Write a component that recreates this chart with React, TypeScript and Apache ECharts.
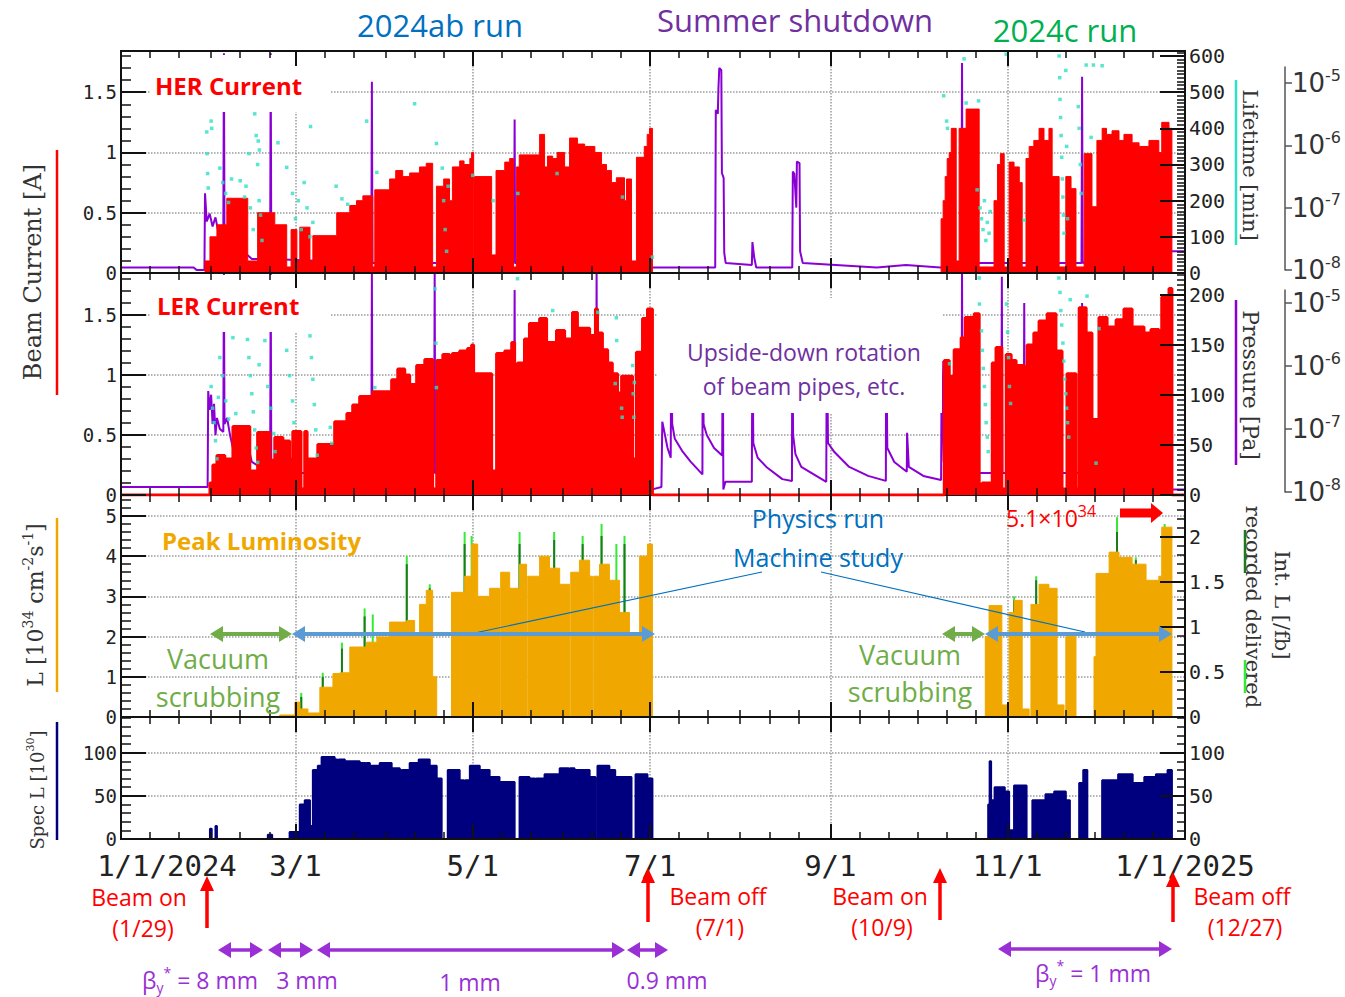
import React, { useEffect, useRef } from 'react';
import * as echarts from 'echarts';

// ---------------- axis ticks / labels ----------------
const MONTH_STARTS = [0, 31, 60, 91, 121, 152, 182, 213, 244, 274, 305, 335, 366];
const X_LABEL_DAYS = [0, 60, 121, 182, 244, 305, 366];
const X_LABELS = ['1/1/2024', '3/1', '5/1', '7/1', '9/1', '11/1', '1/1/2025'];
const SPLIT_DAYS = [60, 121, 182, 244, 305];

// ---------------- data (x = day of 2024, 0 = 1/1/2024) ----------------
// beam currents [A], step values holding from the given day
const herCurrent = [
  [0, 0], [28.9, 0.1], [30.6, 0.3], [33, 0.4], [36.4, 0.62], [43.6, 0.1], [47, 0.5], [52.9, 0.4], [57, 0.05], [58.5, 0.36],
  [60.5, 0.1], [61.5, 0.38], [65, 0.1], [66, 0.31], [74.2, 0.5], [78.7, 0.56], [81, 0.6], [83.2, 0.64], [86.6, 0.05], [87.3, 0.69],
  [92.4, 0.78], [94.5, 0.85], [96.9, 0.8], [99.3, 0.83], [102.7, 0.88], [105, 0.91], [107.2, 0.05], [108.5, 0.72], [111, 0.78], [113, 0.6],
  [114, 0.88], [116.5, 0.93], [118, 0.9], [120, 0.95], [120.6, 1.0], [121.3, 0.05], [121.6, 0.8], [127.5, 0.15], [129, 0.85], [132, 0.92],
  [133.7, 0.95], [135, 0.05], [136, 0.88], [137, 0.98], [144, 1.15], [145.7, 0.88], [146.7, 0.97], [148.5, 0.95], [150, 1.0], [152.6, 0.88],
  [154.3, 1.12], [157, 1.07], [159.5, 1.05], [163, 1.0], [165.3, 0.9], [167, 0.85], [168.7, 0.75], [170.4, 0.79], [173.2, 0.6], [173.9, 0.78],
  [175.6, 0.1], [177.3, 0.96], [180, 1.05], [181, 1.15], [181.8, 1.2], [182.8, 0],
  [282.1, 0.45], [282.8, 0.6], [283.5, 0.8], [284.2, 0.95], [284.9, 1.0], [285.6, 1.2], [287.3, 0.1], [288.3, 1.2], [290.7, 1.36], [295.2, 0.05],
  [300.3, 0.6], [301.5, 0.9], [302.5, 0.99], [303.8, 0.05], [305.5, 0.92], [307.2, 0.88], [309, 0.75], [310, 0.05], [311.3, 0.95], [312.4, 1.05],
  [314, 1.1], [315.8, 1.2], [317.5, 1.1], [319.2, 1.2], [320.3, 0.8], [322.7, 0.05], [325, 0.8], [326.8, 0.7], [328.5, 0.05], [331.3, 0.99],
  [334, 0.55], [335.7, 1.1], [337.5, 1.2], [339, 1.15], [340.9, 1.18], [343.3, 1.1], [345, 1.15], [347.8, 1.08], [350.2, 1.05], [353.6, 1.1],
  [357, 1.0], [358, 1.25], [360.5, 1.2], [361.5, 0], [366, 0],
];
const lerCurrent = [
  [0, 0], [30.6, 0.1], [31.6, 0.25], [33, 0.33], [35.7, 0.3], [38.5, 0.57], [44.3, 0.2], [47, 0.52], [51.2, 0.29], [52.9, 0.48],
  [55.7, 0.45], [58, 0.3], [59.1, 0.53], [61.9, 0.05], [63.2, 0.53], [64, 0.3], [67.7, 0.42], [73.5, 0.61], [77.7, 0.68], [79.7, 0.75],
  [82.1, 0.82], [86.6, 0.86], [93.1, 0.96], [95.2, 1.05], [97.6, 1.0], [99.3, 0.92], [101.7, 1.08], [104.5, 1.13], [107.2, 0.05], [108.6, 1.12],
  [110.7, 1.17], [113, 1.0], [114, 1.18], [116.5, 1.2], [119.2, 1.22], [120.6, 1.25], [121.3, 0.05], [121.6, 1.01], [127.5, 0.2], [129.2, 1.18],
  [132, 1.2], [134.4, 1.27], [135.4, 0.05], [136.4, 1.1], [138.8, 1.3], [140.5, 1.43], [144, 1.47], [146.4, 1.27], [149.8, 1.37], [152.6, 1.3],
  [155.3, 1.52], [157, 1.39], [161.2, 1.33], [163.2, 1.55], [163.9, 1.35], [165.6, 1.21], [167.4, 1.1], [169, 1.01], [170.8, 0.85], [172.2, 0.99],
  [176, 0.3], [177.3, 1.19], [179.4, 1.47], [181.1, 1.55], [182.8, 0],
  [283.2, 1.12], [284.9, 0.99], [286.6, 1.21], [289, 1.31], [289.7, 0.05], [290.4, 1.48], [293.5, 1.51], [295.2, 0.05], [296.2, 0.1], [299.7, 1.1],
  [301, 1.23], [303, 0.05], [304.5, 1.17], [306.2, 1.12], [307.9, 1.08], [310.7, 0.05], [311.7, 1.25], [314, 1.35], [315.8, 1.45], [318.6, 1.51],
  [321.6, 1.2], [323.7, 0.05], [325.4, 1.01], [328.5, 0.05], [329.6, 1.56], [332, 1.35], [334, 0.63], [336.4, 1.48], [339.2, 1.4], [342.3, 1.46],
  [345, 1.55], [347.8, 1.4], [351.9, 1.35], [354.3, 1.38], [357, 1.35], [358, 1.65], [360.5, 1.72], [361.5, 0], [366, 0],
];
// vacuum pressure [Pa] (log scale)
const herPressure = [
  [0, 1.1e-8], [25, 1.1e-8], [26, 1.0e-8], [28.7, 1.0e-8], [28.9, 1.7e-7], [29.5, 6e-8], [30.5, 8e-8], [31.5, 5e-8], [32.5, 7e-8], [33.5, 4e-8],
  [35.2, 4e-8], [35.4, 3e-5], [35.6, 4e-8], [38, 3e-8], [45, 1.5e-8], [51.3, 1.5e-8], [51.5, 3e-5], [51.7, 1.5e-8], [86.1, 1.3e-8], [86.3, 1.05e-5],
  [86.5, 1.3e-8], [135.2, 1.3e-8], [135.4, 2.6e-6], [135.6, 1.3e-8], [182.8, 1.1e-8], [204.4, 1.1e-8], [204.6, 3.7e-6], [205.3, 3.2e-6], [205.5, 8e-6], [205.8, 1.74e-5],
  [206.5, 1.6e-5], [206.7, 3.6e-7], [207.3, 3e-7], [207.5, 1.9e-8], [208, 1.3e-8], [217, 1.2e-8], [217.2, 2.8e-8], [217.8, 1.6e-8], [218.5, 1.1e-8], [230.9, 1.1e-8],
  [231.1, 3.8e-7], [231.6, 3.5e-7], [232.3, 1e-7], [232.5, 5.5e-7], [233.4, 5.2e-7], [233.6, 2e-8], [234.5, 1.3e-8], [260, 1.1e-8], [270, 1.2e-8], [281.8, 1.1e-8],
  [289.1, 1.3e-8], [289.3, 2.1e-5], [289.5, 1.3e-8], [330.4, 1.3e-8], [330.6, 1.26e-5], [330.8, 1.3e-8], [361.5, 2e-8], [366, 2e-8],
];
const lerPressure = [
  [0, 1.2e-8], [29.8, 1.2e-8], [30, 4e-7], [30.5, 2e-7], [31, 3.5e-7], [31.5, 1.2e-7], [32, 2.5e-7], [32.5, 8e-8], [33, 1.5e-7], [34, 1e-7],
  [35.2, 9e-8], [35.4, 3e-5], [35.6, 1.2e-7], [36.5, 1.5e-7], [37.5, 8e-8], [38.5, 5e-8], [40, 3e-8], [43.5, 6e-8], [45, 3e-8], [51.3, 2e-8],
  [51.5, 3e-5], [51.7, 2e-8], [86.1, 2e-8], [86.3, 3e-5], [86.5, 2e-8], [107.7, 2e-8], [107.9, 3e-5], [108.1, 2e-8], [135.2, 2e-8], [135.4, 1.6e-5],
  [135.6, 2e-8], [163.4, 2e-8], [163.6, 3e-5], [163.8, 2e-8], [182.8, 1.1e-8], [185.9, 1.2e-8], [186.2, 1.3e-7], [186.9, 9e-8], [188, 5e-8], [189.1, 3.5e-8],
  [189.3, 5e-6], [189.6, 1.2e-7], [190.5, 7e-8], [193, 4.5e-8], [196, 3e-8], [200, 1.9e-8], [200.1, 5e-6], [200.4, 1.2e-7], [201.5, 8e-8], [204, 5e-8],
  [206.8, 3.8e-8], [207, 5e-6], [207.2, 1.1e-8], [207.9, 1.45e-8], [217, 1.45e-8], [217.2, 5e-6], [217.5, 6e-8], [219, 3.5e-8], [222, 2.5e-8], [227.5, 1.6e-8],
  [230.8, 1.5e-8], [230.9, 5e-6], [231.2, 8e-8], [232, 4e-8], [234, 2.5e-8], [242.6, 1.45e-8], [242.8, 5e-6], [243.2, 6e-8], [245.4, 4.3e-8], [250.5, 2.5e-8],
  [257, 1.8e-8], [263.1, 1.5e-8], [263.2, 5e-6], [263.6, 5e-8], [266, 3e-8], [270.3, 2.1e-8], [270.4, 8.7e-8], [271, 2.5e-8], [276, 1.8e-8], [282.1, 1.55e-8],
  [282.3, 1.2e-6], [283, 3e-8], [289.1, 2e-8], [289.3, 3e-5], [289.5, 2e-8], [302.8, 2e-8], [303, 2.6e-5], [303.2, 2e-8], [310.5, 2e-8], [310.7, 1e-5],
  [310.9, 2e-8], [330.4, 2e-8], [330.6, 1e-5], [330.8, 2e-8], [361.5, 1.1e-8], [366, 1.1e-8],
];
// beam lifetime [min]
const herLifetime = [
  [29.5, 390], [29.6, 330], [29.8, 275], [30, 235], [31, 420], [31.2, 400], [34, 290], [35, 250], [36, 220], [37, 195],
  [38, 260], [41, 255], [42.5, 210], [43, 240], [44, 330], [44.5, 180], [45.5, 120], [46, 440], [46.5, 380], [47, 300],
  [47.5, 200], [48, 160], [48.5, 90], [47.2, 365], [47.6, 340], [54, 360], [57, 292], [59, 220], [60, 150], [61, 200],
  [62, 120], [63, 250], [64, 180], [65, 100], [66, 140], [65.2, 405], [74, 240], [76, 205], [78, 190], [84.5, 420],
  [88, 278], [101, 468], [108.5, 358], [110.5, 290], [111, 200], [111.5, 120], [112, 60], [112.5, 240], [121, 270], [128, 200],
  [136.5, 220], [150, 275], [172.5, 210], [182.8, 44],
  [283, 490], [284, 420], [284.3, 400], [290, 592], [290.7, 470], [295, 476], [294.5, 230], [295.5, 180], [296, 150], [296.5, 120],
  [297, 200], [297.5, 90], [298, 140], [298.6, 110], [299, 170], [304.5, 605], [310.7, 146], [322.7, 600], [322.9, 540], [323, 480],
  [323.2, 430], [323.4, 380], [323.6, 320], [323.8, 260], [324, 210], [324.2, 160], [324.4, 110], [325, 560], [325.3, 350], [325.6, 150],
  [329.3, 460], [329.6, 400], [330, 300], [330.3, 220], [332, 575], [334.5, 575], [337.5, 573], [333.7, 375],
];
const lerLifetime = [
  [31, 300], [31.5, 240], [32, 200], [32.5, 150], [33, 100], [33.5, 270], [34, 380], [35, 330], [36, 260], [37, 210],
  [38.5, 435], [39.5, 225], [43.5, 430], [44, 380], [44.5, 330], [45, 280], [45.5, 230], [46, 180], [46.5, 130], [47, 90],
  [47.5, 360], [49.5, 427], [50.5, 300], [51.5, 240], [52.5, 170], [53, 120], [57, 400], [58, 330], [59, 260], [59.5, 200],
  [65, 440], [65.5, 380], [66, 320], [66.5, 250], [67, 180], [67.5, 110], [72, 187], [72.5, 143], [87.3, 297], [108, 570],
  [108.3, 420], [108.5, 297], [136.4, 598], [148.5, 510], [164, 505], [170.4, 490], [170.5, 427], [170, 308], [172.2, 240], [172.4, 215],
  [176, 358], [176.2, 280], [176.4, 215], [176.6, 311],
  [285, 363], [295.2, 600], [295.3, 528], [296, 454], [296.3, 400], [296.6, 350], [297, 300], [297.3, 250], [297.6, 200], [298, 160],
  [298.3, 120], [304.6, 528], [305, 450], [305.3, 380], [305.6, 300], [306, 253], [322.6, 600], [323, 560], [323.3, 510], [323.6, 470],
  [324, 420], [324.3, 370], [324.6, 320], [325, 280], [325.3, 240], [325.6, 200], [326, 160], [326.5, 540], [332.3, 550], [336.4, 460],
  [335.4, 88],
];
// peak luminosity [1e34 cm^-2 s^-1]
const peakLumi = [
  [0, 0], [54.6, 0.05], [59.8, 0.37], [61.5, 0.2], [64.3, 0.1], [68.4, 0.74], [72.9, 1.08], [75.3, 1.1], [78.7, 1.74], [84.5, 1.86],
  [88, 1.99], [92.4, 2.36], [98.3, 2.4], [101, 2.1], [102.7, 2.8], [105, 3.15], [107.2, 1.0], [108.6, 0], [112.5, 0], [113.7, 3.1],
  [118.2, 3.5], [120.6, 4.3], [122.7, 3.0], [126.8, 3.2], [130.2, 0], [130.6, 3.6], [133.7, 3.2], [137.1, 3.8], [139.5, 0], [139.9, 3.5],
  [144, 4.0], [147.4, 3.7], [150.9, 3.3], [154.3, 0], [154.7, 3.6], [157.7, 3.9], [161.2, 3.5], [162.2, 0], [162.6, 3.5], [164.6, 3.8],
  [168, 3.4], [171.5, 2.6], [174.9, 2.0], [178.4, 4.0], [181.1, 4.3], [182.8, 0],
  [297.3, 2.0], [298.6, 2.77], [303, 0.3], [304.8, 0], [305.5, 2.6], [307.2, 2.9], [310, 0.2], [312.4, 0], [313, 2.8], [315.8, 3.3],
  [319.2, 3.2], [322, 0.3], [324.4, 0], [325, 2.0], [328.5, 0], [334.7, 1.5], [335.4, 3.57], [339.9, 4.1], [343.3, 3.97], [347.8, 3.8],
  [352.6, 3.4], [357, 3.5], [358, 4.72], [361.5, 0], [366, 0],
];
const lumiDelivered = [
  [62, 0.6], [69.4, 1.1], [76, 1.85], [83.8, 2.7], [86.6, 2.55], [98.3, 4.0], [106.2, 3.3], [118.2, 4.6], [120.6, 4.5], [137.1, 4.6],
  [149, 4.6], [158.8, 4.5], [165.3, 4.8], [170.4, 4.3], [173.2, 4.5], [307.2, 3.0], [314.8, 3.5], [342.6, 4.97], [349.1, 3.97], [359, 4.8],
];
const lumiRecorded = [
  [62, 0.5], [69.4, 1.0], [76, 1.7], [83.8, 2.5], [98.3, 3.8], [106.2, 3.2], [118.2, 4.3], [137.1, 4.3], [149, 4.4], [158.8, 4.3],
  [165.3, 4.5], [173.2, 4.3], [307.2, 2.9], [314.8, 3.4], [342.6, 4.6], [349.1, 3.9],
];
// specific luminosity [1e30]
const specLumi = [
  [0, 0], [30.6, 12], [31.2, 0], [32.5, 15], [33, 0], [50.5, 5], [52, 0], [58, 8], [61.5, 40], [63.2, 45],
  [65, 15], [66, 80], [67.7, 85], [69, 95], [73.5, 92], [74.5, 0], [74.9, 92], [77, 90], [82.1, 88], [84, 0],
  [84.4, 88], [85.6, 85], [89, 88], [93.1, 82], [95.9, 80], [96.5, 0], [96.9, 80], [99.3, 88], [102, 0], [102.4, 92],
  [106.2, 85], [108.6, 70], [110.3, 0], [112.4, 80], [116.5, 68], [118, 0], [118.4, 68], [120, 85], [123.4, 80], [126.8, 72],
  [130.2, 66], [135.4, 0], [137.1, 72], [140.5, 70], [142.5, 0], [142.9, 70], [145.7, 75], [150.9, 82], [154, 0], [154.4, 82],
  [156, 80], [161.2, 72], [163.2, 0], [163.9, 85], [168, 80], [170, 0], [170.4, 72], [175.6, 0], [177, 75], [181.1, 70],
  [182.8, 0],
  [298.3, 40], [298.8, 90], [299.3, 45], [300.5, 60], [304, 55], [305.5, 10], [307.2, 62], [311.5, 0], [313.5, 45], [318, 52],
  [321, 55], [325, 45], [326.4, 0], [329.6, 65], [331, 80], [332.4, 0], [337.5, 68], [343, 75], [348, 65], [352, 72],
  [356, 75], [360, 80], [361.5, 0], [366, 0],
];

// ---------------- styling ----------------
const RED = '#ff0000';
const PURPLE = '#8a00d4';
const CYAN = '#2ee0c4';
const ORANGE = '#f0a800';
const NAVY = '#00007f';
const MONO = 'DejaVu Sans Mono';
const SERIF = 'DejaVu Serif';
const SANS = 'Open Sans';

const MINOR_DAYS: number[] = [];
MONTH_STARTS.slice(0, 12).forEach((s) => {
  if (!X_LABEL_DAYS.includes(s)) MINOR_DAYS.push(s);
  MINOR_DAYS.push(s + 10, s + 20);
});

const GRID_DEFS = [
  { top: 51, height: 222 },
  { top: 273, height: 222 },
  { top: 495, height: 222 },
  { top: 717, height: 122 },
  { top: 67, height: 203 },
  { top: 290, height: 202 },
];
const PANEL_Y = [
  { left: { max: 1.842, interval: 0.5, minor: 5 }, right: { max: 613.8, interval: 100, minor: 10 } },
  { left: { max: 1.85, interval: 0.5, minor: 5 }, right: { max: 222, interval: 50, minor: 10 } },
  { left: { max: 5.52, interval: 1, minor: 5 }, right: { max: 2.467, interval: 0.5, minor: 5 } },
  { left: { max: 141.4, interval: 50, minor: 5 }, right: { max: 141.4, interval: 50, minor: 5 } },
];

function txt(text: string, x: number, y: number, size: number, color: string, o: any = {}) {
  const align = o.align || 'center';
  return {
    type: 'text', x, y, rotation: o.rotation || 0, z: o.z ?? 30, silent: true,
    style: {
      text, fill: color, fontSize: size, fontFamily: o.family || SANS, fontWeight: o.weight || 'normal',
      textAlign: align, textVerticalAlign: 'middle', align, verticalAlign: 'middle', rich: o.rich,
    },
  };
}
function head(xt: number, yt: number, dx: number, dy: number, len: number, half: number, color: string, z: number) {
  const bx = xt - dx * len, by = yt - dy * len;
  const px = -dy, py = dx;
  return {
    type: 'polygon', z, silent: true,
    shape: { points: [[xt, yt], [bx + px * half, by + py * half], [bx - px * half, by - py * half]] },
    style: { fill: color },
  };
}
function arrow(x1: number, y1: number, x2: number, y2: number, color: string, w: number, len: number, half: number, both: boolean, z = 25) {
  const L = Math.hypot(x2 - x1, y2 - y1);
  const dx = (x2 - x1) / L, dy = (y2 - y1) / L;
  const sx = both ? x1 + dx * len * 0.8 : x1, sy = both ? y1 + dy * len * 0.8 : y1;
  const ex = x2 - dx * len * 0.8, ey = y2 - dy * len * 0.8;
  const els: any[] = [{ type: 'line', z, silent: true, shape: { x1: sx, y1: sy, x2: ex, y2: ey }, style: { stroke: color, lineWidth: w } }];
  els.push(head(x2, y2, dx, dy, len, half, color, z));
  if (both) els.push(head(x1, y1, -dx, -dy, len, half, color, z));
  return els;
}
function vline(x: number, y1: number, y2: number, color: string, w = 2.5) {
  return { type: 'line', z: 30, silent: true, shape: { x1: x, y1, x2: x, y2 }, style: { stroke: color, lineWidth: w } };
}
function box(x: number, y: number, w: number, h: number) {
  return { type: 'rect', z: 6, silent: true, shape: { x, y, width: w, height: h }, style: { fill: '#ffffff' } };
}

function buildOption() {
  const grid = GRID_DEFS.map((g, i) => ({
    left: 121, right: 160, top: g.top, height: g.height, show: i < 4, z: 10,
    borderColor: '#111', borderWidth: 2, backgroundColor: 'rgba(0,0,0,0)', outerBoundsMode: 'none', containLabel: false,
  }));

  const dotted = { type: 'dotted', color: '#9a9a9a', width: 1.5 };
  const xAxis: any[] = [];
  const xData: number[] = [];
  for (let g = 0; g < 6; g++) {
    xData.push(xAxis.length);
    xAxis.push({
      type: 'value', gridIndex: g, min: 0, max: 366, position: 'bottom', z: 0, show: g < 4,
      axisLine: { show: false, onZero: false }, axisLabel: { show: false },
      axisTick: { show: false, customValues: SPLIT_DAYS },
      splitLine: { show: g < 4, lineStyle: dotted },
    });
    if (g >= 4) continue;
    for (const pos of ['bottom', 'top']) {
      const showLabel = g === 3 && pos === 'bottom';
      xAxis.push({
        type: 'value', gridIndex: g, min: 0, max: 366, position: pos, z: 12,
        axisLine: { show: false, onZero: false }, splitLine: { show: false },
        axisTick: { show: true, inside: true, length: 15, customValues: X_LABEL_DAYS, lineStyle: { color: '#111', width: 2 } },
        axisLabel: showLabel
          ? {
              show: true, customValues: X_LABEL_DAYS, fontFamily: MONO, fontSize: 29, lineHeight: 26, color: '#222', margin: 14,
              formatter: (v: number) => {
                const i = X_LABEL_DAYS.indexOf(Math.round(v));
                const s = i >= 0 ? X_LABELS[i] : '';
                return i === 0 ? `{f|${s}}` : s;
              },
              rich: { f: { fontFamily: MONO, fontSize: 29, lineHeight: 26, color: '#222', padding: [0, 0, 0, 92] } },
            }
          : { show: false },
      });
      xAxis.push({
        type: 'value', gridIndex: g, min: 0, max: 366, position: pos, z: 12,
        axisLine: { show: false, onZero: false }, splitLine: { show: false }, axisLabel: { show: false },
        axisTick: { show: true, inside: true, length: 7, customValues: MINOR_DAYS, lineStyle: { color: '#111', width: 1.5 } },
      });
    }
  }

  const yAxis: any[] = [];
  const yData: number[] = [], yRight: number[] = [];
  const labelStyle = { fontFamily: MONO, fontSize: 19, lineHeight: 17, color: '#222', margin: 4, showMaxLabel: false };
  PANEL_Y.forEach((p, g) => {
    yData[g] = yAxis.length;
    yAxis.push({
      type: 'value', gridIndex: g, min: 0, max: p.left.max, interval: p.left.interval, position: 'left', z: 0,
      axisLine: { show: false, onZero: false }, axisTick: { show: false }, axisLabel: { show: false },
      splitLine: { show: true, lineStyle: dotted },
    });
    yAxis.push({
      type: 'value', gridIndex: g, min: 0, max: p.left.max, interval: p.left.interval, position: 'left', z: 12,
      axisLine: { show: false, onZero: false }, splitLine: { show: false },
      axisTick: { show: true, inside: true, length: 25, lineStyle: { color: '#111', width: 2 } },
      minorTick: { show: true, splitNumber: p.left.minor, length: 10, lineStyle: { color: '#111', width: 1.5 } },
      axisLabel: { show: true, ...labelStyle },
    });
    yRight[g] = yAxis.length;
    yAxis.push({
      type: 'value', gridIndex: g, min: 0, max: p.right.max, interval: p.right.interval, position: 'right', z: 12,
      axisLine: { show: false, onZero: false }, splitLine: { show: false },
      axisTick: { show: true, inside: true, length: 25, lineStyle: { color: '#111', width: 2 } },
      minorTick: { show: true, splitNumber: p.right.minor, length: 8, lineStyle: { color: '#111', width: 1.5 } },
      axisLabel: { show: true, ...labelStyle, fontSize: 20 },
    });
  });
  const yLogHer = yAxis.length;
  yAxis.push({ type: 'log', gridIndex: 0, min: 8.95e-9, max: 3.26e-5, show: false, axisLine: { onZero: false } });
  const yLogLer = yAxis.length;
  yAxis.push({ type: 'log', gridIndex: 1, min: 8.96e-9, max: 2.99e-5, show: false, axisLine: { onZero: false } });
  const yLifeLer = yAxis.length;
  yAxis.push({ type: 'value', gridIndex: 1, min: 0, max: 613.8, show: false, axisLine: { onZero: false } });
  const logLabel = {
    show: true, margin: 7, showMaxLabel: false,
    formatter: (v: number) => `{b|10}{s|${Math.round(Math.log10(v))}}`,
    rich: {
      b: { fontFamily: 'DejaVu Sans', fontSize: 26, color: '#333', lineHeight: 32 },
      s: { fontFamily: 'DejaVu Sans', fontSize: 16, color: '#333', lineHeight: 32, verticalAlign: 'top' },
    },
  };
  [[4, 1.81e-5], [5, 1.61e-5]].forEach(([g, mx]) => {
    yAxis.push({
      type: 'log', gridIndex: g, min: 1e-8, max: mx, position: 'right', offset: 100, z: 12,
      axisLine: { show: true, onZero: false, lineStyle: { color: '#555', width: 1.5 } },
      axisTick: { show: true, inside: false, length: 7, lineStyle: { color: '#555', width: 1.5 } },
      minorTick: { show: false }, splitLine: { show: false }, axisLabel: logLabel,
    });
  });

  const stepArea = (color: string, w: number) => ({
    type: 'line', step: 'end', showSymbol: false, symbol: 'none',
    lineStyle: { color, width: w }, areaStyle: { color, opacity: 1 }, itemStyle: { color },
  });

  const series: any[] = [
    { type: 'line', name: 'HER pressure', xAxisIndex: xData[0], yAxisIndex: yLogHer, data: herPressure, showSymbol: false, symbol: 'none', lineStyle: { color: PURPLE, width: 2 }, z: 2 },
    { ...stepArea(RED, 1), name: 'HER current', xAxisIndex: xData[0], yAxisIndex: yData[0], data: herCurrent, z: 3 },
    { type: 'scatter', name: 'HER lifetime', xAxisIndex: xData[0], yAxisIndex: yRight[0], data: herLifetime, symbol: 'rect', symbolSize: 3.5, itemStyle: { color: CYAN }, z: 4 },
    { type: 'line', name: 'LER pressure', xAxisIndex: xData[1], yAxisIndex: yLogLer, data: lerPressure, showSymbol: false, symbol: 'none', lineStyle: { color: PURPLE, width: 2 }, z: 2 },
    { ...stepArea(RED, 3), name: 'LER current', xAxisIndex: xData[1], yAxisIndex: yData[1], data: lerCurrent, z: 11 },
    { type: 'scatter', name: 'LER lifetime', xAxisIndex: xData[1], yAxisIndex: yLifeLer, data: lerLifetime, symbol: 'rect', symbolSize: 3.5, itemStyle: { color: CYAN }, z: 11 },
    { type: 'bar', name: 'delivered', xAxisIndex: xData[2], yAxisIndex: yData[2], data: lumiDelivered, barWidth: 2, itemStyle: { color: '#35ea35' }, z: 2 },
    { type: 'bar', name: 'recorded', xAxisIndex: xData[2], yAxisIndex: yData[2], data: lumiRecorded, barWidth: 2, barGap: '-100%', itemStyle: { color: '#1f7a1f' }, z: 2 },
    { ...stepArea(ORANGE, 1), name: 'Peak luminosity', xAxisIndex: xData[2], yAxisIndex: yData[2], data: peakLumi, z: 3 },
    { ...stepArea(NAVY, 2), name: 'Specific luminosity', xAxisIndex: xData[3], yAxisIndex: yData[3], data: specLumi, z: 3 },
  ];

  const supRich = (size: number, color: string, family: string, sub = 0.62) => ({
    a: { fontSize: size, fill: color, fontFamily: family, lineHeight: size * 1.3 },
    s: { fontSize: Math.round(size * sub), fill: color, fontFamily: family, lineHeight: size * 1.3, verticalAlign: 'top' },
    d: { fontSize: Math.round(size * sub), fill: color, fontFamily: family, lineHeight: size * 1.3, verticalAlign: 'bottom' },
  });
  const BLUE = '#0070c0', GREEN = '#70ad47', VIOLET = '#7030a0', BETA = '#9a2fd6', LBLUE = '#5b9bd5';
  const graphic: any[] = [
    box(150, 55, 180, 57), box(150, 275, 180, 57), box(658, 298, 284, 115),
    // top titles
    txt('2024ab run', 440, 25, 31, BLUE), txt('Summer shutdown', 795, 20, 31, VIOLET), txt('2024c run', 1065, 30, 31, '#00b050'),
    // panel labels
    txt('HER Current', 155, 85, 24, RED, { align: 'left', weight: 'bold' }),
    txt('LER Current', 157, 305, 24, RED, { align: 'left', weight: 'bold' }),
    txt('Peak Luminosity', 162, 540, 24, ORANGE, { align: 'left', weight: 'bold' }),
    txt('Upside-down rotation', 804, 352, 23, VIOLET), txt('of beam pipes, etc.', 804, 386, 23, VIOLET),
    txt('Physics run', 818, 518, 25, BLUE), txt('Machine study', 818, 557, 25, BLUE),
    txt('Vacuum', 218, 658, 27, GREEN), txt('scrubbing', 218, 696, 27, GREEN),
    txt('Vacuum', 910, 654, 27, GREEN), txt('scrubbing', 910, 691, 27, GREEN),
    txt('{a|5.1×10}{s|34}', 1006, 518, 23, RED, { align: 'left', rich: supRich(23, RED, SANS, 0.7) }),
    // axis titles
    txt('Beam Current [A]', 33, 272, 24, '#333', { family: SERIF, rotation: Math.PI / 2 }),
    txt('{a|L [10}{s|34}{a| cm}{s|-2}{a|s}{s|-1}{a|]}', 35, 605, 22, '#333', { family: SERIF, rotation: Math.PI / 2, rich: supRich(22, '#333', SERIF) }),
    txt('{a|Spec L [10}{s|30}{a|]}', 37, 790, 18, '#333', { family: SERIF, rotation: Math.PI / 2, rich: supRich(18, '#333', SERIF) }),
    txt('Lifetime [min]', 1250, 165, 21, '#333', { family: SERIF, rotation: -Math.PI / 2 }),
    txt('Pressure [Pa]', 1250, 385, 22, '#333', { family: SERIF, rotation: -Math.PI / 2 }),
    txt('Int. L [/fb]', 1282, 605, 21, '#333', { family: SERIF, rotation: -Math.PI / 2 }),
    txt('recorded delivered', 1253, 607, 21, '#333', { family: SERIF, rotation: -Math.PI / 2 }),
    vline(57, 150, 395, RED), vline(57, 518, 692, ORANGE), vline(57, 722, 840, NAVY),
    vline(1236, 80, 245, CYAN), vline(1236, 300, 465, PURPLE),
    vline(1245, 530, 573, '#1f7a1f'), vline(1245, 660, 693, '#35ea35'),
    // pointer lines
    { type: 'line', z: 25, silent: true, shape: { x1: 470, y1: 634, x2: 762, y2: 572 }, style: { stroke: BLUE, lineWidth: 1.2 } },
    { type: 'line', z: 25, silent: true, shape: { x1: 821, y1: 572, x2: 1085, y2: 632 }, style: { stroke: BLUE, lineWidth: 1.2 } },
    ...arrow(210, 634, 292, 634, GREEN, 4, 13, 8, true),
    ...arrow(942, 634, 985, 634, GREEN, 4, 13, 8, true),
    ...arrow(292, 634, 655, 634, LBLUE, 4, 13, 8, true),
    ...arrow(985, 634, 1172, 634, LBLUE, 4, 13, 8, true),
    ...arrow(1120, 513, 1163, 513, RED, 9, 12, 10, false),
    // beam on / off
    txt('Beam on', 139, 897, 23, RED), txt('(1/29)', 143, 928, 23, RED),
    txt('Beam off', 718, 896, 23, RED), txt('(7/1)', 720, 927, 23, RED),
    txt('Beam on', 880, 896, 23, RED), txt('(10/9)', 882, 927, 23, RED),
    txt('Beam off', 1242, 896, 23, RED), txt('(12/27)', 1245, 927, 23, RED),
    ...arrow(207, 928, 207, 876, RED, 3.5, 15, 7, false),
    ...arrow(648, 922, 648, 868, RED, 3.5, 15, 7, false),
    ...arrow(940, 920, 940, 868, RED, 3.5, 15, 7, false),
    ...arrow(1173, 922, 1173, 872, RED, 3.5, 15, 7, false),
    // beta_y*
    ...arrow(218, 950, 263, 950, BETA, 3.5, 13, 8, true),
    ...arrow(268, 950, 313, 950, BETA, 3.5, 13, 8, true),
    ...arrow(317, 950, 625, 950, BETA, 3.5, 13, 8, true),
    ...arrow(627, 950, 668, 950, BETA, 3.5, 13, 8, true),
    ...arrow(998, 949, 1172, 949, BETA, 3.5, 13, 8, true),
    txt('{a|β}{d|y}{s|*}{a| = 8 mm}', 200, 980, 23, BETA, { rich: supRich(23, BETA, SANS) }),
    txt('3 mm', 307, 980, 23, BETA), txt('1 mm', 470, 982, 23, BETA), txt('0.9 mm', 667, 980, 23, BETA),
    txt('{a|β}{d|y}{s|*}{a| = 1 mm}', 1093, 973, 23, BETA, { rich: supRich(23, BETA, SANS) }),
  ];

  return { animation: false, backgroundColor: '#ffffff', grid, xAxis, yAxis, series, graphic };
}

export default function App() {
  const ref = useRef<HTMLDivElement>(null);
  useEffect(() => {
    document.body.style.margin = '0';
    const chart = echarts.init(ref.current as HTMLDivElement, null, { renderer: 'svg' });
    chart.setOption(buildOption() as any);
    return () => chart.dispose();
  }, []);
  return <div ref={ref} style={{ width: 1345, height: 997 }} />;
}
